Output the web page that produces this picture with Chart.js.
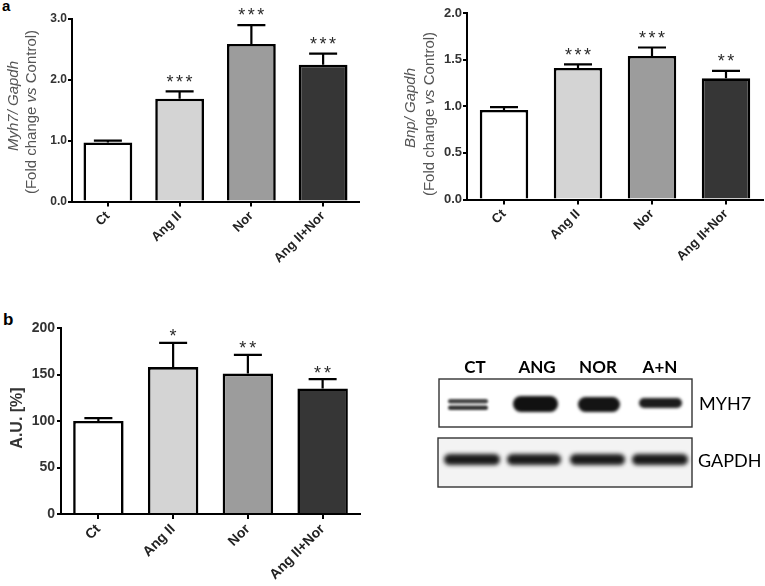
<!DOCTYPE html>
<html>
<head>
<meta charset="utf-8">
<title>Myh7 / Bnp expression</title>
<script src="https://cdn.jsdelivr.net/npm/chart.js@4.4.0/dist/chart.umd.min.js"></script>
<style>
    body {
        margin: 0;
        background: #fff;
        width: 765px;
        height: 586px;
        position: relative;
        overflow: hidden;
        font-family: "Liberation Sans", Arial, sans-serif;
    }
    .chart-box { position: absolute; }
    .panel-letter {
        position: absolute;
        font-weight: bold;
        color: #000;
        line-height: 1;
    }
    .blot-label {
        position: absolute;
        font-family: Lato, "Open Sans", sans-serif;
        color: #000;
        line-height: 1;
        white-space: nowrap;
    }
    .blot-head { font-weight: bold; font-size: 17px; transform: translateX(-50%); }
    .blot-name { font-size: 18px; }
    #blotCanvas { position: absolute; left: 430px; top: 370px; }
</style>
</head>
<body>

<div class="panel-letter" style="left:2px;top:-2px;font-size:15px;">a</div>
<div class="panel-letter" style="left:3px;top:311px;font-size:17px;">b</div>

<div class="chart-box" style="left:0;top:0;width:375px;height:280px;"><canvas id="myh7Chart"></canvas></div>
<div class="chart-box" style="left:380px;top:0;width:385px;height:280px;"><canvas id="bnpChart"></canvas></div>
<div class="chart-box" style="left:0;top:290px;width:370px;height:296px;"><canvas id="proteinChart"></canvas></div>

<!-- western blot -->
<canvas id="blotCanvas" width="270" height="125"></canvas>
<div class="blot-label blot-head" style="left:475px;top:358px;">CT</div>
<div class="blot-label blot-head" style="left:537px;top:358px;">ANG</div>
<div class="blot-label blot-head" style="left:598px;top:358px;">NOR</div>
<div class="blot-label blot-head" style="left:660px;top:358px;">A+N</div>
<div class="blot-label blot-name" style="left:699px;top:394px;">MYH7</div>
<div class="blot-label blot-name" style="left:698px;top:451px;">GAPDH</div>

<script>
// ---- data ----
const categories = ['Ct', 'Ang II', 'Nor', 'Ang II+Nor'];
const barColors = ['#ffffff', '#d4d4d4', '#9c9c9c', '#363636'];

const myh7Means = [0.97, 1.69, 2.59, 2.25];
const myh7Errors = [0.03, 0.12, 0.31, 0.18];
const myh7Stars = ['', '***', '***', '***'];
const myh7Ticks = [0, 1, 2, 3];

const bnpMeans = [0.96, 1.41, 1.54, 1.30];
const bnpErrors = [0.03, 0.04, 0.09, 0.08];
const bnpStars = ['', '***', '***', '**'];
const bnpTicks = [0, 0.5, 1, 1.5, 2];

const proteinMeans = [100, 158, 151, 135];
const proteinErrors = [3, 26, 20, 10];
const proteinStars = ['', '*', '**', '**'];
const proteinTicks = [0, 50, 100, 150, 200];

// upper error bars + significance stars
const errorBarPlugin = {
    id: 'errorBars',
    afterDatasetsDraw(chart, args, opts) {
        const ctx = chart.ctx;
        const yScale = chart.scales.y;
        const meta = chart.getDatasetMeta(0);
        ctx.save();
        meta.data.forEach((bar, i) => {
            const mean = opts.means[i];
            const top = yScale.getPixelForValue(mean + opts.errors[i]);
            const base = yScale.getPixelForValue(mean);
            ctx.strokeStyle = '#000';
            ctx.lineWidth = 2.2;
            ctx.beginPath();
            ctx.moveTo(bar.x, base);
            ctx.lineTo(bar.x, top);
            ctx.moveTo(bar.x - opts.capWidth / 2, top);
            ctx.lineTo(bar.x + opts.capWidth / 2, top);
            ctx.stroke();

            const stars = opts.stars[i];
            if (stars) {
                ctx.fillStyle = '#2a2a2a';
                ctx.font = opts.starSize + 'px "Liberation Sans", Arial, sans-serif';
                ctx.textAlign = 'center';
                ctx.textBaseline = 'alphabetic';
                const baseline = top - opts.starGap + 0.575 * opts.starSize;
                for (let k = 0; k < stars.length; k++) {
                    const sx = bar.x + (k - (stars.length - 1) / 2) * opts.starSpacing;
                    ctx.fillText('*', sx, baseline);
                }
            }
        });
        ctx.restore();
    }
};

// rotated y axis title with mixed italic parts
const yTitlePlugin = {
    id: 'yTitle',
    afterDraw(chart, args, opts) {
        const ctx = chart.ctx;
        ctx.save();
        ctx.fillStyle = opts.color;
        ctx.textBaseline = 'middle';
        opts.lines.forEach(line => {
            ctx.save();
            ctx.translate(line.x, line.y);
            ctx.rotate(-Math.PI / 2);
            let total = 0;
            line.parts.forEach(p => {
                ctx.font = (p.italic ? 'italic ' : '') + opts.weight + ' ' + opts.size + 'px "Liberation Sans", Arial, sans-serif';
                total += ctx.measureText(p.text).width;
            });
            let x = -total / 2;
            ctx.textAlign = 'left';
            line.parts.forEach(p => {
                ctx.font = (p.italic ? 'italic ' : '') + opts.weight + ' ' + opts.size + 'px "Liberation Sans", Arial, sans-serif';
                ctx.fillText(p.text, x, 0);
                x += ctx.measureText(p.text).width;
            });
            ctx.restore();
        });
        ctx.restore();
    }
};

function makeBarChart(canvasId, cfg) {
    return new Chart(document.getElementById(canvasId), {
        type: 'bar',
        data: {
            labels: categories,
            datasets: [{
                data: cfg.means,
                backgroundColor: barColors,
                borderColor: '#000',
                borderWidth: 2.6,
                borderSkipped: 'start',
                categoryPercentage: 1,
                barPercentage: cfg.barPct
            }]
        },
        options: {
            responsive: true,
            maintainAspectRatio: false,
            animation: false,
            layout: { padding: { left: 0, top: cfg.padTop, right: cfg.padRight, bottom: 0 } },
            plugins: {
                legend: { display: false },
                tooltip: { enabled: false },
                errorBars: {
                    means: cfg.means, errors: cfg.errors, stars: cfg.stars,
                    capWidth: 28, starSize: cfg.starSize, starSpacing: cfg.starSpacing, starGap: cfg.starGap
                },
                yTitle: cfg.title
            },
            scales: {
                x: {
                    afterFit: s => { s.height = cfg.xHeight; },
                    border: { color: '#000', width: 2 },
                    grid: { offset: false, drawOnChartArea: false, color: '#000', lineWidth: 2, tickLength: 5 },
                    ticks: {
                        minRotation: 45, maxRotation: 45, padding: 2,
                        color: '#222',
                        font: { family: '"Liberation Sans", Arial, sans-serif', weight: 'bold', size: cfg.xFont }
                    }
                },
                y: {
                    min: cfg.ticks[0],
                    max: cfg.ticks[cfg.ticks.length - 1],
                    afterFit: s => { s.width = cfg.yWidth; },
                    afterBuildTicks: s => { s.ticks = cfg.ticks.map(v => ({ value: v })); },
                    border: { color: '#000', width: 2 },
                    grid: { drawOnChartArea: false, color: '#000', lineWidth: 2, tickLength: 4 },
                    ticks: {
                        padding: cfg.tickPad,
                        color: '#333',
                        font: { family: '"Liberation Sans", Arial, sans-serif', weight: 'bold', size: cfg.yFont },
                        callback: v => cfg.fmt(v)
                    }
                }
            }
        },
        plugins: [errorBarPlugin, yTitlePlugin]
    });
}

makeBarChart('myh7Chart', {
    means: myh7Means, errors: myh7Errors, stars: myh7Stars, ticks: myh7Ticks,
    fmt: v => v.toFixed(1),
    barPct: 0.68, padTop: 19, padRight: 16, yWidth: 72, xHeight: 78.5, tickPad: 1,
    xFont: 13, yFont: 12, starSize: 18, starSpacing: 9.5, starGap: 14,
    title: {
        color: '#555', size: 15, weight: 'normal',
        lines: [
            { x: 14, y: 106, parts: [{ text: 'Myh7/ Gapdh', italic: true }] },
            { x: 32, y: 112, parts: [{ text: '(Fold change ' }, { text: 'vs', italic: true }, { text: ' Control)' }] }
        ]
    }
});

makeBarChart('bnpChart', {
    means: bnpMeans, errors: bnpErrors, stars: bnpStars, ticks: bnpTicks,
    fmt: v => v.toFixed(1),
    barPct: 0.655, padTop: 13, padRight: 2, yWidth: 87, xHeight: 80.5, tickPad: 1,
    xFont: 13, yFont: 13, starSize: 18, starSpacing: 9.5, starGap: 14,
    title: {
        color: '#555', size: 15, weight: 'normal',
        lines: [
            { x: 31, y: 108, parts: [{ text: 'Bnp/ Gapdh', italic: true }] },
            { x: 50, y: 114, parts: [{ text: '(Fold change ' }, { text: 'vs', italic: true }, { text: ' Control)' }] }
        ]
    }
});

makeBarChart('proteinChart', {
    means: proteinMeans, errors: proteinErrors, stars: proteinStars, ticks: proteinTicks,
    fmt: v => String(v),
    barPct: 0.675, padTop: 38, padRight: 10, yWidth: 61, xHeight: 72, tickPad: 2,
    xFont: 14, yFont: 14, starSize: 18, starSpacing: 10, starGap: 11,
    title: {
        color: '#333', size: 16, weight: 'bold',
        lines: [{ x: 18, y: 128, parts: [{ text: 'A.U. [%]' }] }]
    }
});

// ---- western blot picture (not data) ----
(function drawBlot() {
    const c = document.getElementById('blotCanvas');
    const ctx = c.getContext('2d');
    const ox = 430, oy = 370;

    // frames
    ctx.fillStyle = '#fff';
    ctx.fillRect(439 - ox, 379 - oy, 253, 48);
    ctx.fillStyle = '#f3f3f3';
    ctx.fillRect(438 - ox, 438 - oy, 254, 49);

    function band(x1, x2, y1, y2, color, blur) {
        ctx.save();
        ctx.filter = 'blur(' + blur + 'px)';
        ctx.fillStyle = color;
        ctx.beginPath();
        ctx.roundRect(x1 - ox, y1 - oy, x2 - x1, y2 - y1, (y2 - y1) / 2);
        ctx.fill();
        ctx.restore();
    }

    // MYH7
    band(448, 488, 399, 403.5, '#444', 1.3);
    band(448, 488, 405.5, 410, '#333', 1.3);
    band(513, 558, 396, 412, '#111', 1.5);
    band(578, 620, 397, 412, '#141414', 1.5);
    band(639, 682, 398, 408, '#1c1c1c', 1.4);

    // GAPDH
    band(444, 500, 454, 465, '#1a1a1a', 2);
    band(507, 561, 454, 465, '#1a1a1a', 2);
    band(570, 625, 454, 465, '#1a1a1a', 2);
    band(632, 688, 454, 465, '#1a1a1a', 2);

    ctx.strokeStyle = '#333';
    ctx.lineWidth = 1.4;
    ctx.strokeRect(439 - ox, 379 - oy, 253, 48);
    ctx.strokeRect(438 - ox, 438 - oy, 254, 49);
})();
</script>
</body>
</html>
